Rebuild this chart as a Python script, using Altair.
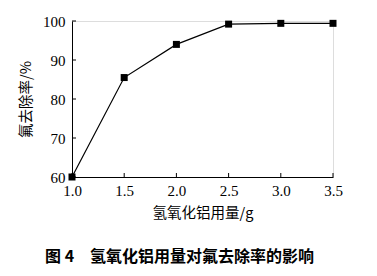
import altair as alt
import pandas as pd

dose = [1.0, 1.5, 2.0, 2.5, 3.0, 3.5]
removal = [60.0, 85.5, 94.0, 99.2, 99.4, 99.4]
x_ticks = [1.0, 1.5, 2.0, 2.5, 3.0, 3.5]
y_ticks = [60, 70, 80, 90, 100]

df = pd.DataFrame({"dose": dose, "removal": removal})
xt = pd.DataFrame({"t": x_ticks})
yt = pd.DataFrame({"t": y_ticks})

W, H = 261, 156
serif = "Liberation Serif"
cjk = "Noto Sans CJK SC"

xscale = alt.Scale(domain=[1.0, 3.5], nice=False, zero=False)
yscale = alt.Scale(domain=[60, 100], nice=False, zero=False)

xaxis = alt.Axis(values=x_ticks, format=".1f", ticks=False, grid=False,
                 domainColor="black", domainWidth=1,
                 labelFont=serif, labelFontSize=15, labelColor="black",
                 labelPadding=6, labelFlush=False, labelOverlap=False,
                 title="氢氧化铝用量/g", titleFont=cjk, titleFontSize=14.5,
                 titleFontWeight="normal", titleColor="black",
                 titleX=W / 2, titleY=36, titleBaseline="middle")
yaxis = alt.Axis(values=y_ticks, ticks=False, grid=False,
                 domainColor="black", domainWidth=1,
                 labelFont=serif, labelFontSize=15, labelColor="black",
                 labelPadding=7, labelFlush=False, labelOverlap=False,
                 title="氟去除率/%", titleFont=cjk, titleFontSize=14.5,
                 titleFontWeight="normal", titleColor="black",
                 titleX=-46, titleY=H / 2, titleBaseline="middle", titleAngle=-90)

line = alt.Chart(df).mark_line(color="black", strokeWidth=1.2, clip=False).encode(
    x=alt.X("dose:Q", scale=xscale, axis=xaxis),
    y=alt.Y("removal:Q", scale=yscale, axis=yaxis),
)
pts = alt.Chart(df).mark_point(shape="square", filled=True, color="black",
                               size=49, opacity=1, clip=False).encode(
    x=alt.X("dose:Q", scale=xscale, axis=xaxis),
    y=alt.Y("removal:Q", scale=yscale, axis=yaxis),
)
xticks_m = alt.Chart(xt).mark_rule(color="black", strokeWidth=1).encode(
    x=alt.X("t:Q", scale=xscale, axis=xaxis),
    y=alt.value(H), y2=alt.value(H - 4),
)
yticks_m = alt.Chart(yt).mark_rule(color="black", strokeWidth=1).encode(
    y=alt.Y("t:Q", scale=yscale, axis=yaxis),
    x=alt.value(0), x2=alt.value(4),
)

chart = alt.layer(line, pts, xticks_m, yticks_m).properties(
    width=W, height=H,
    padding={"left": 72, "top": 21, "right": 44, "bottom": 99},
    autosize=alt.AutoSizeParams(type="none"),
    title=alt.TitleParams(
        "图 4\u3000氢氧化铝用量对氟去除率的影响",
        orient="bottom", anchor="start", frame="group",
        font=cjk, fontSize=16, fontWeight="bold", color="black",
        dx=-27, offset=29, baseline="top",
    ),
).configure_view(stroke=None).configure(background="white")

chart.save("out.html", embed_options={"renderer": "svg", "actions": False})
